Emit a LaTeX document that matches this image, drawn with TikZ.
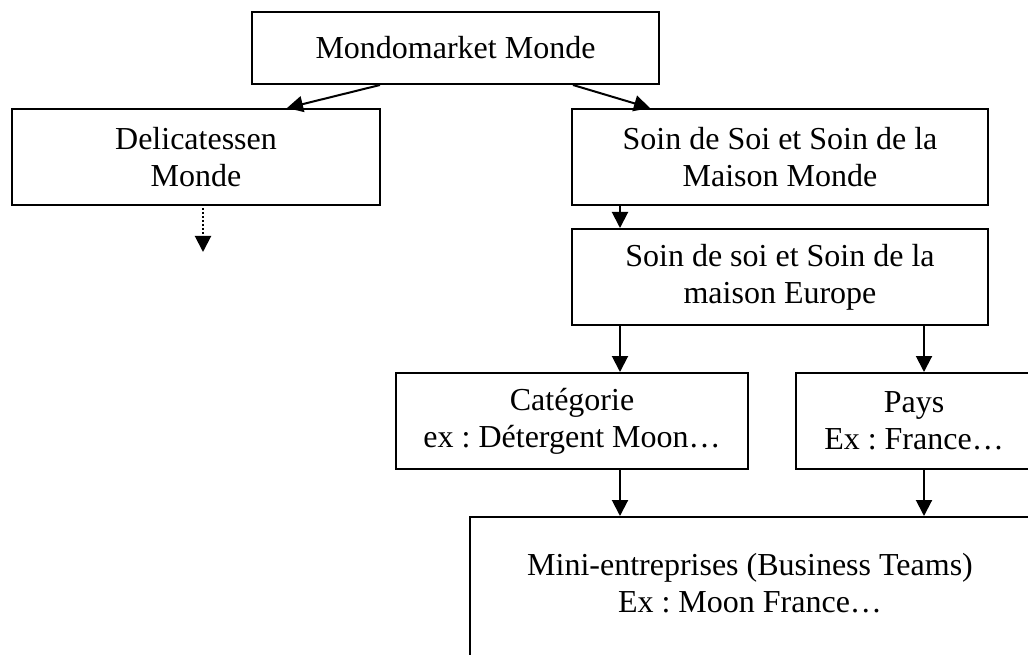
\documentclass[tikz,border=0pt]{standalone}
\usepackage{fontspec}
\setmainfont{Liberation Serif}
\frenchspacing
\usetikzlibrary{arrows.meta}
\begin{document}
\begin{tikzpicture}[x=1pt,y=1pt,
  box/.style={draw=black, line width=2pt, rectangle, inner sep=0pt, align=center,
              font=\fontsize{32}{36.8}\selectfont\frenchspacing},
  txt/.style={inner sep=0pt, align=center, font=\fontsize{32}{36.8}\selectfont\frenchspacing},
  arr/.style={line width=2pt, -{Triangle[length=16pt,width=16pt]}},
  dotarr/.style={line width=2pt, dash pattern=on 2pt off 2pt, -{Triangle[length=16pt,width=16pt]}}]
\useasboundingbox (0,0) rectangle (1028,-655);
\clip (0,0) rectangle (1028,-655);
\fill[white] (0,0) rectangle (1028,-655);

\node[box, minimum width=407pt, minimum height=72pt] (n1) at (455.5,-48) {Mondomarket Monde};
\node[box, minimum width=368pt, minimum height=96pt] (n2) at (196,-157) {Delicatessen\\Monde};
\node[box, minimum width=416pt, minimum height=96pt] (n3) at (780,-157) {Soin de Soi et Soin de la\\Maison Monde};
\node[box, minimum width=416pt, minimum height=96pt] (n4) at (780,-277) {Soin de soi et Soin de la\\maison Europe};
\node[box, minimum width=352pt, minimum height=96pt] (n5) at (572,-421) {Catégorie\\ex : Détergent Moon…};
\node[box, minimum width=236pt, minimum height=96pt] (n6) at (914,-421) {Pays\\Ex : France…};
\node[box, minimum width=560pt, minimum height=150pt, anchor=north] (n7) at (750,-516) {};
\node[txt] (n7t) at (750,-583) {Mini-entreprises (Business Teams)\\Ex : Moon France…};

\coordinate (d2) at (203,-252);

\draw[arr] ([xshift=-75.5pt]n1.south) -- ([xshift=91pt]n2.north);
\draw[arr] ([xshift=117.5pt]n1.south) -- ([xshift=-130pt]n3.north);
\draw[dotarr] ([xshift=7pt,yshift=-2pt]n2.south) -- (d2);
\draw[arr] ([xshift=-160pt]n3.south) -- ([xshift=-160pt]n4.north);
\draw[arr] ([xshift=-160pt]n4.south) -- ([xshift=48pt]n5.north);
\draw[arr] ([xshift=144pt]n4.south) -- ([xshift=10pt]n6.north);
\draw[arr] ([xshift=48pt]n5.south) -- ([xshift=-130pt]n7.north);
\draw[arr] ([xshift=10pt]n6.south) -- ([xshift=174pt]n7.north);
\end{tikzpicture}
\end{document}
